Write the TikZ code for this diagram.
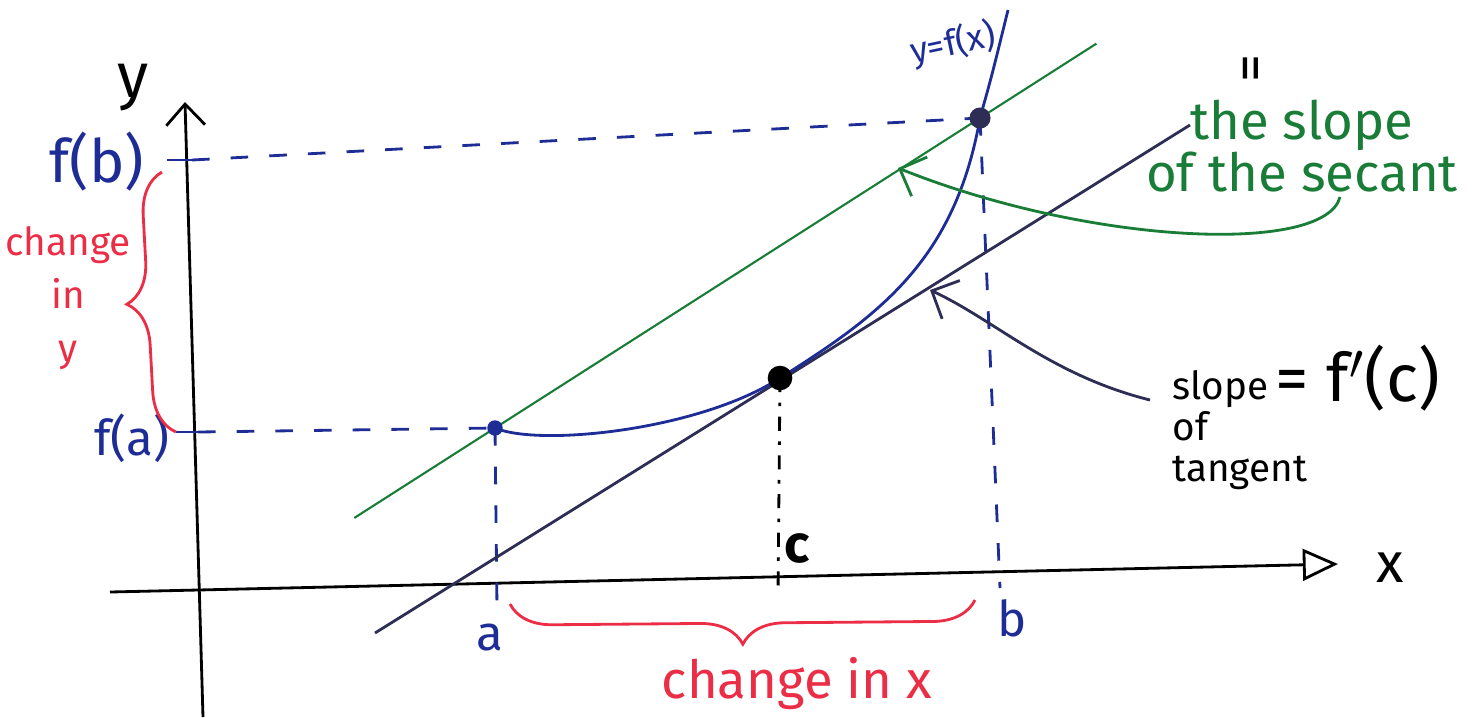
\documentclass[tikz,border=0pt]{standalone}
\usepackage{fontspec}
\setmainfont{Fira Sans}
\usetikzlibrary{arrows.meta,positioning,calc,decorations.pathreplacing}
\definecolor{penblue}{RGB}{30,45,150}
\definecolor{pengreen}{RGB}{25,125,55}
\definecolor{penred}{RGB}{235,45,70}
\definecolor{pennavy}{RGB}{45,45,85}

\begin{document}
\begin{tikzpicture}[x=0.01cm, y=-0.01cm,
    axis/.style={draw=black, thick},
    guide/.style={draw=penblue, thick, dash pattern=on 5pt off 6pt},
    cguide/.style={draw=black, thick, dash pattern=on 4pt off 3pt on 1pt off 3pt},
    tick/.style={draw=penblue, thick},
    secant/.style={draw=pengreen, semithick},
    tangent/.style={draw=pennavy, thick},
    curve/.style={draw=penblue, thick},
    note/.style={thick, -{Straight Barb[length=6pt,width=12pt]}},
    brace/.style={draw=penred, thick, decorate, decoration={brace, amplitude=12pt}},
    lbl/.style={font=\fontsize{14}{16}\selectfont}
]
\useasboundingbox (0,0) rectangle (1475,717);

% Axes
\coordinate (ybot) at (203,717);
\coordinate (ytop) at (185,102);
\coordinate (xleft) at (110,592);
\coordinate (xright) at (1338,564);
\draw[axis, -{Straight Barb[length=6pt,width=11pt]}] (ybot) -- (ytop);
\draw[axis, -{Triangle[open,length=10pt,width=9pt]}] (xleft) -- (xright);
\node[font=\fontsize{18}{20}\selectfont] (ylabel) at (133,88) {y};
\node[font=\fontsize{16}{18}\selectfont] (xlabel) at (1390,568) {x};

% Points on the curve
\coordinate (A) at (495,428);
\coordinate (C) at (780,378);
\coordinate (B) at (980,118);

% Ticks
\coordinate (fatick) at (198,432);
\coordinate (fbtick) at (192,160);
\coordinate (atick) at (497,608);
\coordinate (ctick) at (778,595);
\coordinate (btick) at (1000,588);
\draw[tick] ($(fatick)+(-22,0)$) -- ($(fatick)+(10,0)$);
\draw[tick] ($(fbtick)+(-25,0)$) -- ($(fbtick)+(12,0)$);

% Guides
\draw[guide] (fatick) -- (A);
\draw[guide] (fbtick) -- (B);
\draw[guide] (A) -- (atick);
\draw[guide] (B) -- (btick);
\draw[cguide] (C) -- (ctick);

% Secant and tangent
\draw[secant] ($(A)!-0.29!(B)$) -- ($(A)!1.24!(B)$);
\coordinate (T1) at (375,633);
\coordinate (T2) at (1190,125);
\draw[tangent] (T1) -- (T2);

% Curve
\draw[curve] (A) .. controls (540,447) and (700,430) .. (C)
    .. controls (880,315) and (955,260) .. (B)
    .. controls (992,75) .. (1008,10);
\node[text=penblue, font=\fontsize{10}{12}\selectfont, rotate=12] (fx) at (953,44) {y=f(x)};

% Dots
\fill[penblue] (A) circle (2.2pt);
\fill[black] (C) circle (3.5pt);
\fill[pennavy] (B) circle (3pt);

% Axis labels
\node[text=penblue, font=\fontsize{17}{19}\selectfont] (fb) at (97,162) {f(b)};
\node[text=penblue, font=\fontsize{14}{16}\selectfont] (fa) at (132,438) {f(a)};
\node[lbl, text=penblue] (alabel) at (490,638) {a};
\node[lbl, text=penblue] (blabel) at (1012,618) {b};
\node[font=\bfseries\fontsize{15}{17}\selectfont] (clabel) at (797,548) {c};

% Changes
\draw[brace] ($(fatick)+(-22,0)$) -- ($(fbtick)+(-30,12)$);
\node[text=penred, align=center, font=\fontsize{11}{15}\selectfont] (dy) at (68,298) {change\\in\\y};
\draw[brace, decoration={mirror}] (510,604) -- (975,600);
\node[text=penred, font=\fontsize{15}{17}\selectfont] (dx) at (797,684) {change in x};

% Notes
\node[text=pengreen, align=center, font=\fontsize{15}{15}\selectfont] (sectxt) at (1302,146) {the slope\\of the secant};
\node[rotate=90, font=\fontsize{16}{18}\selectfont] (eq) at (1256,68) {=};
\draw[note, pengreen] (1340,197) .. controls (1325,255) and (1090,245) .. (898,168);

\node[align=left, anchor=north west, font=\fontsize{11}{11.6}\selectfont] (tantxt) at (1160,358) {slope\\of\\tangent};
\node[font=\fontsize{19}{21}\selectfont] (fprime) at (1358,378) {= f$'$(c)};
\draw[note, pennavy] (1150,400) .. controls (1050,375) and (995,320) .. (930,290);

\end{tikzpicture}
\end{document}
